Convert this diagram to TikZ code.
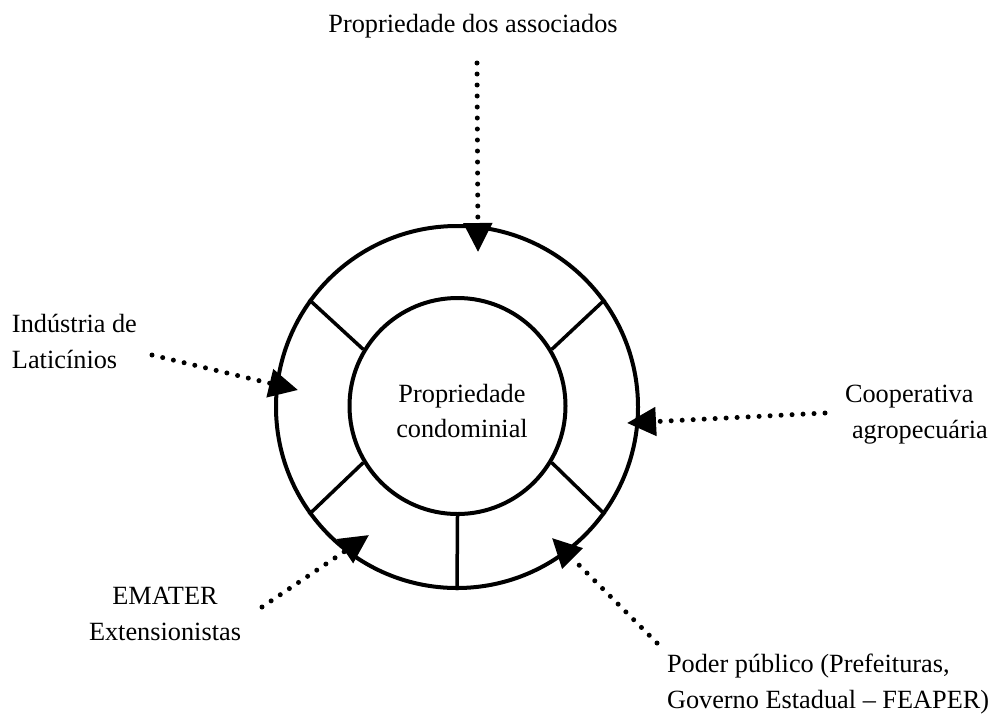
\documentclass[tikz,border=0pt]{standalone}
\usepackage{fontspec}
\setmainfont{Liberation Serif}
\usetikzlibrary{arrows.meta}
\begin{document}
\begin{tikzpicture}[x=1pt,y=-1pt,
  lbl/.style={font=\fontsize{26.3}{35.5}\selectfont, inner sep=0pt, outer sep=0pt},
  ring/.style={circle, draw, line width=4pt, inner sep=0pt},
  spoke/.style={line width=3.5pt},
  feed/.style={line width=5pt, line cap=round, dash pattern=on 0pt off 11pt,
    -{Triangle[length=29pt,width=28pt]}}]
\useasboundingbox (0,0) rectangle (992,713);
% rings
\node[ring, minimum size=362pt] (outer) at (457,407) {};
\node[ring, minimum size=216pt] (inner) at (457.5,406) {};
\node[lbl, align=center] (core) at (462,411) {Propriedade\\condominial};
% spokes
\draw[spoke] (inner.149) -- (outer.144);
\draw[spoke] (inner.31) -- (outer.36);
\draw[spoke] (inner.211) -- (outer.216);
\draw[spoke] (inner.329) -- (outer.324);
\draw[spoke] (inner.south) -- (outer.south);
% labels (base anchor = baseline of the last line)
\node[lbl, anchor=base] (assoc) at (473,32) {Propriedade dos associados};
\node[lbl, anchor=base west, align=left] (ind) at (12,368) {Indústria de\\Laticínios};
\node[lbl, anchor=base west, align=left] (coop) at (845,438) {Cooperativa\\\hspace*{7pt}agropecuária};
\node[lbl, anchor=base, align=center] (emater) at (165,640) {EMATER\\Extensionistas};
\node[lbl, anchor=base west, align=left] (poder) at (667,708) {Poder público (Prefeituras,\\Governo Estadual -- FEAPER)};
% connector ends
\coordinate (assocStart) at (477,63);
\coordinate (assocTip) at (478,252);
\coordinate (indStart) at (152,355);
\coordinate (indTip) at (298,390);
\coordinate (coopStart) at (825,413);
\coordinate (coopTip) at (627,423);
\coordinate (ematerStart) at (262,607);
\coordinate (ematerTip) at (369,535);
\coordinate (poderStart) at (657,643);
\coordinate (poderTip) at (552,538);
% connectors
\draw[feed] (assocStart) -- (assocTip);
\draw[feed] (indStart) -- (indTip);
\draw[feed] (coopStart) -- (coopTip);
\draw[feed] (ematerStart) -- (ematerTip);
\draw[feed] (poderStart) -- (poderTip);
\end{tikzpicture}
\end{document}
